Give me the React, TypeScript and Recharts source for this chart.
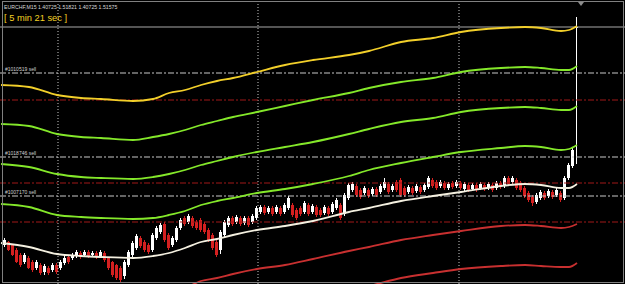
import React from 'react';
import { ComposedChart, Bar, Line, XAxis, YAxis, ReferenceLine } from 'recharts';

// ---------- candle data (EURCHF, M15) ----------
const opens = [
  1.2039, 1.2042, 1.2039, 1.2034, 1.2029, 1.2022, 1.2026, 1.2022, 1.2016, 1.2019,
  1.2012, 1.2016, 1.2014, 1.2019, 1.2016, 1.2021, 1.2027, 1.2026, 1.2028, 1.2031,
  1.2029, 1.2032, 1.2029, 1.2031, 1.2028, 1.2031, 1.2026, 1.2022, 1.2019, 1.2016,
  1.2008, 1.2019, 1.2029, 1.2036, 1.2046, 1.2042, 1.2039, 1.2034, 1.2046, 1.2052,
  1.2060, 1.2049, 1.2039, 1.2044, 1.2056, 1.2066, 1.2062, 1.2066, 1.2062, 1.2064,
  1.2060, 1.2054, 1.2049, 1.2042, 1.2034, 1.2049, 1.2059, 1.2066, 1.2062, 1.2066,
  1.2061, 1.2066, 1.2062, 1.2066, 1.2072, 1.2077, 1.2072, 1.2076, 1.2072, 1.2076,
  1.2072, 1.2076, 1.2079, 1.2074, 1.2076, 1.2072, 1.2079, 1.2072, 1.2077, 1.2074,
  1.2071, 1.2076, 1.2072, 1.2076, 1.2079, 1.2070, 1.2086, 1.2094, 1.2098, 1.2094,
  1.2091, 1.2094, 1.2090, 1.2095, 1.2092, 1.2096, 1.2100, 1.2094, 1.2102, 1.2104,
  1.2096, 1.2092, 1.2096, 1.2093, 1.2097, 1.2094, 1.2097, 1.2104, 1.2102, 1.2098,
  1.2101, 1.2096, 1.2101, 1.2098, 1.2101, 1.2095, 1.2099, 1.2095, 1.2099, 1.2096,
  1.2099, 1.2096, 1.2099, 1.2096, 1.2101, 1.2098, 1.2106, 1.2102, 1.2104, 1.2101,
  1.2096, 1.2091, 1.2087, 1.2082, 1.2086, 1.2091, 1.2088, 1.2092, 1.2089, 1.2091,
  1.2086, 1.2106, 1.2118, 1.2256,
];
const highs = [
  1.2046, 1.2043, 1.2040, 1.2036, 1.2031, 1.2031, 1.2028, 1.2024, 1.2024, 1.2021,
  1.2020, 1.2018, 1.2021, 1.2021, 1.2024, 1.2028, 1.2029, 1.2031, 1.2034, 1.2033,
  1.2034, 1.2034, 1.2033, 1.2033, 1.2034, 1.2033, 1.2027, 1.2023, 1.2020, 1.2018,
  1.2024, 1.2034, 1.2043, 1.2050, 1.2048, 1.2044, 1.2041, 1.2051, 1.2058, 1.2061,
  1.2062, 1.2051, 1.2048, 1.2058, 1.2066, 1.2068, 1.2070, 1.2068, 1.2064, 1.2066,
  1.2062, 1.2056, 1.2051, 1.2044, 1.2054, 1.2064, 1.2068, 1.2068, 1.2069, 1.2068,
  1.2068, 1.2068, 1.2070, 1.2078, 1.2079, 1.2079, 1.2078, 1.2078, 1.2079, 1.2078,
  1.2081, 1.2088, 1.2081, 1.2076, 1.2078, 1.2083, 1.2081, 1.2080, 1.2079, 1.2076,
  1.2079, 1.2078, 1.2082, 1.2086, 1.2081, 1.2091, 1.2101, 1.2102, 1.2100, 1.2096,
  1.2098, 1.2096, 1.2097, 1.2097, 1.2100, 1.2106, 1.2102, 1.2100, 1.2104, 1.2106,
  1.2098, 1.2099, 1.2098, 1.2100, 1.2099, 1.2101, 1.2108, 1.2106, 1.2104, 1.2104,
  1.2103, 1.2102, 1.2103, 1.2104, 1.2103, 1.2102, 1.2101, 1.2101, 1.2101, 1.2102,
  1.2101, 1.2102, 1.2101, 1.2103, 1.2103, 1.2108, 1.2108, 1.2108, 1.2106, 1.2103,
  1.2098, 1.2093, 1.2089, 1.2091, 1.2094, 1.2093, 1.2095, 1.2094, 1.2096, 1.2093,
  1.2108, 1.2121, 1.2136, 1.2267,
];
const lows = [
  1.2037, 1.2033, 1.2028, 1.2021, 1.2017, 1.2020, 1.2015, 1.2012, 1.2014, 1.2009,
  1.2009, 1.2009, 1.2012, 1.2010, 1.2014, 1.2019, 1.2020, 1.2024, 1.2026, 1.2025,
  1.2027, 1.2026, 1.2027, 1.2025, 1.2026, 1.2022, 1.2014, 1.2007, 1.2004, 1.2002,
  1.2005, 1.2017, 1.2027, 1.2034, 1.2036, 1.2032, 1.2030, 1.2032, 1.2044, 1.2050,
  1.2042, 1.2034, 1.2037, 1.2042, 1.2054, 1.2058, 1.2060, 1.2056, 1.2054, 1.2052,
  1.2050, 1.2042, 1.2034, 1.2027, 1.2030, 1.2047, 1.2057, 1.2058, 1.2060, 1.2058,
  1.2059, 1.2057, 1.2060, 1.2064, 1.2070, 1.2069, 1.2070, 1.2068, 1.2070, 1.2068,
  1.2070, 1.2074, 1.2067, 1.2064, 1.2068, 1.2070, 1.2068, 1.2070, 1.2067, 1.2067,
  1.2069, 1.2068, 1.2070, 1.2074, 1.2064, 1.2068, 1.2084, 1.2092, 1.2087, 1.2085,
  1.2089, 1.2086, 1.2088, 1.2087, 1.2090, 1.2094, 1.2090, 1.2092, 1.2092, 1.2087,
  1.2087, 1.2090, 1.2089, 1.2091, 1.2090, 1.2092, 1.2095, 1.2096, 1.2094, 1.2096,
  1.2094, 1.2094, 1.2095, 1.2096, 1.2094, 1.2093, 1.2092, 1.2093, 1.2092, 1.2094,
  1.2093, 1.2094, 1.2092, 1.2094, 1.2095, 1.2096, 1.2098, 1.2100, 1.2094, 1.2092,
  1.2086, 1.2082, 1.2078, 1.2080, 1.2084, 1.2084, 1.2086, 1.2085, 1.2087, 1.2082,
  1.2084, 1.2104, 1.2116, 1.2120,
];
const closes = [
  1.2044, 1.2034, 1.2029, 1.2022, 1.2019, 1.2029, 1.2016, 1.2014, 1.2022, 1.2011,
  1.2018, 1.2011, 1.2019, 1.2012, 1.2022, 1.2026, 1.2022, 1.2029, 1.2032, 1.2027,
  1.2032, 1.2028, 1.2031, 1.2027, 1.2032, 1.2024, 1.2016, 1.2009, 1.2006, 1.2004,
  1.2022, 1.2032, 1.2041, 1.2048, 1.2038, 1.2034, 1.2032, 1.2049, 1.2056, 1.2059,
  1.2044, 1.2036, 1.2046, 1.2056, 1.2064, 1.2060, 1.2068, 1.2058, 1.2056, 1.2054,
  1.2052, 1.2044, 1.2036, 1.2029, 1.2052, 1.2062, 1.2066, 1.2060, 1.2067, 1.2060,
  1.2066, 1.2059, 1.2068, 1.2076, 1.2077, 1.2071, 1.2076, 1.2070, 1.2077, 1.2070,
  1.2079, 1.2086, 1.2069, 1.2066, 1.2070, 1.2081, 1.2070, 1.2078, 1.2069, 1.2069,
  1.2077, 1.2070, 1.2080, 1.2084, 1.2066, 1.2089, 1.2099, 1.2100, 1.2089, 1.2087,
  1.2096, 1.2088, 1.2095, 1.2089, 1.2098, 1.2102, 1.2092, 1.2098, 1.2094, 1.2089,
  1.2089, 1.2097, 1.2091, 1.2098, 1.2092, 1.2099, 1.2106, 1.2098, 1.2096, 1.2102,
  1.2096, 1.2100, 1.2097, 1.2102, 1.2096, 1.2100, 1.2094, 1.2099, 1.2094, 1.2100,
  1.2095, 1.2100, 1.2094, 1.2101, 1.2097, 1.2106, 1.2100, 1.2106, 1.2096, 1.2094,
  1.2088, 1.2084, 1.2081, 1.2089, 1.2092, 1.2086, 1.2093, 1.2087, 1.2094, 1.2084,
  1.2106, 1.2119, 1.2134, 1.2257,
];

// ---------- indicator lines (sampled at bar indices) ----------
const lineIdx = [-1, 6, 13, 19, 24, 32, 37, 41, 45, 49, 53, 57, 63, 70, 77, 86, 91, 99, 107, 114, 124, 130, 134, 139, 141, 143];
const yellowLine = [1.2199, 1.2197, 1.2189, 1.2186, 1.2185, 1.2183, 1.2185, 1.2191, 1.2194, 1.2199, 1.2203, 1.2206, 1.2212, 1.2219, 1.2224, 1.2229, 1.2233, 1.2242, 1.2246, 1.2252, 1.2256, 1.2257, 1.2256, 1.2253, 1.2254, 1.2258];
const green1Line = [1.2160, 1.2158, 1.2150, 1.2147, 1.2146, 1.2144, 1.2147, 1.2150, 1.2154, 1.2159, 1.2163, 1.2167, 1.2172, 1.2178, 1.2184, 1.2191, 1.2196, 1.2202, 1.2206, 1.2212, 1.2216, 1.2217, 1.2216, 1.2214, 1.2214, 1.2218];
const green2Line = [1.2120, 1.2117, 1.2110, 1.2107, 1.2106, 1.2105, 1.2107, 1.2110, 1.2114, 1.2119, 1.2123, 1.2127, 1.2132, 1.2137, 1.2142, 1.2150, 1.2155, 1.2162, 1.2166, 1.2172, 1.2176, 1.2177, 1.2176, 1.2174, 1.2174, 1.2178];
const green3Line = [1.2080, 1.2077, 1.2069, 1.2067, 1.2066, 1.2065, 1.2066, 1.2069, 1.2073, 1.2079, 1.2083, 1.2086, 1.2091, 1.2095, 1.2100, 1.2108, 1.2114, 1.2121, 1.2127, 1.2132, 1.2136, 1.2138, 1.2137, 1.2134, 1.2135, 1.2139];
const maLine = [1.2041, 1.2037, 1.2030, 1.2028, 1.2027, 1.2026, 1.2028, 1.2031, 1.2036, 1.2042, 1.2045, 1.2049, 1.2054, 1.2058, 1.2063, 1.2072, 1.2076, 1.2083, 1.2088, 1.2092, 1.2098, 1.2100, 1.2099, 1.2096, 1.2096, 1.2100];
const red1Line = [null, null, null, null, null, null, 1.1988, 1.1991, 1.1996, 1.2003, 1.2006, 1.2010, 1.2015, 1.2019, 1.2025, 1.2033, 1.2037, 1.2044, 1.2049, 1.2053, 1.2058, 1.2059, 1.2058, 1.2056, 1.2057, 1.2060];
const red2Line = [null, null, null, null, null, null, null, null, null, null, null, null, null, null, 1.1986, 1.1994, 1.1998, 1.2006, 1.2011, 1.2015, 1.2018, 1.2019, 1.2018, 1.2017, 1.2017, 1.2021];

// ---------- levels ----------
const bidPrice = 1.2257;
const orderPrices = [1.2211, 1.2127, 1.2088];
const orderLabels = ['#1010519 sell', '#1018746 sell', '#1007170 sell'];
const stopPrices = [1.2184, 1.2101, 1.2062];
const separators = [13.25, 63.25, 113.5];

const headerText = 'EURCHF,M15  1.40725 1.51821 1.40725 1.51575';
const timerText = '[ 5 min 21 sec ]';

const W = 625;
const H = 284;
const BULL = '#ffffff';
const BEAR = '#d42020';

const candles = opens.map((o, i) => ({
  i,
  open: o,
  high: highs[i],
  low: lows[i],
  close: closes[i],
  range: [lows[i], highs[i]],
}));

const lineData = lineIdx.map((i, k) => ({
  i,
  yellow: yellowLine[k],
  green1: green1Line[k],
  green2: green2Line[k],
  green3: green3Line[k],
  ma: maLine[k],
  red1: red1Line[k],
  red2: red2Line[k],
}));

const CandleShape = (props: any) => {
  const { x, y, width, height, payload } = props;
  if (!payload || x == null || y == null) return null;
  const { open, close, high, low } = payload;
  const top = Math.min(y, y + height);
  const bottom = Math.max(y, y + height);
  const span = high - low;
  const py = (v: number) => (span === 0 ? top : top + ((high - v) / span) * (bottom - top));
  const cx = Math.floor(x + width / 2);
  const color = close >= open ? BULL : BEAR;
  const bTop = py(Math.max(open, close));
  const bBot = py(Math.min(open, close));
  return (
    <g>
      <line x1={cx + 0.5} x2={cx + 0.5} y1={top} y2={bottom} stroke={color} strokeWidth={1} />
      <rect x={cx - 1} y={bTop} width={3} height={Math.max(1, bBot - bTop)} fill={color} />
    </g>
  );
};

const OrderLabel = (props: any) => {
  const { viewBox, text } = props;
  if (!viewBox) return null;
  return (
    <text x={viewBox.x + 5} y={viewBox.y - 2} fill="#d0d0d0" fontSize={5} fontFamily="'Liberation Sans', Arial, sans-serif">
      {text}
    </text>
  );
};

const lineKeys = [
  { key: 'yellow', color: '#f2cf2a' },
  { key: 'green1', color: '#84e82a' },
  { key: 'green2', color: '#84e82a' },
  { key: 'green3', color: '#84e82a' },
  { key: 'ma', color: '#f4f0e0' },
  { key: 'red1', color: '#c83030' },
  { key: 'red2', color: '#c83030' },
];

export default function App() {
  return (
    <div style={{ position: 'fixed', left: 0, top: 0, width: W, height: H, background: '#000', overflow: 'hidden' }}>
      <ComposedChart width={W} height={H} data={candles} margin={{ top: 0, right: 0, bottom: 0, left: 0 }}>
        <XAxis dataKey="i" type="number" domain={[-1.25, 155]} allowDataOverflow hide />
        <YAxis type="number" domain={[1.2, 1.2284]} allowDataOverflow hide />
        {separators.map((s) => (
          <ReferenceLine key={'s' + s} x={s} stroke="#c8c8c8" strokeDasharray="1 2" strokeWidth={1} />
        ))}
        <ReferenceLine y={bidPrice} stroke="#a8a8a8" strokeWidth={1} />
        {stopPrices.map((p) => (
          <ReferenceLine key={'sl' + p} y={p} stroke="#a01818" strokeDasharray="6 2 2 2" strokeWidth={1} />
        ))}
        {orderPrices.map((p, k) => (
          <ReferenceLine
            key={'o' + p}
            y={p}
            stroke="#c8c8c8"
            strokeDasharray="6 2 2 2"
            strokeWidth={1}
            label={<OrderLabel text={orderLabels[k]} />}
          />
        ))}
        <Bar dataKey="range" barSize={3} shape={<CandleShape />} isAnimationActive={false} />
        {lineKeys.map((l) => (
          <Line
            key={l.key}
            data={lineData}
            dataKey={l.key}
            type="monotone"
            stroke={l.color}
            strokeWidth={1.8}
            dot={false}
            activeDot={false}
            legendType="none"
            isAnimationActive={false}
          />
        ))}
      </ComposedChart>
      <div
        style={{
          position: 'absolute',
          left: 2,
          top: 1,
          width: 622,
          height: 282,
          border: '1px solid #808080',
          boxSizing: 'border-box',
          pointerEvents: 'none',
        }}
      />
      <svg width={W} height={H} style={{ position: 'absolute', left: 0, top: 0, pointerEvents: 'none' }}>
        <text x={4} y={8.5} fill="#d8d8d8" fontSize={5.2} fontFamily="'Liberation Sans', Arial, sans-serif">
          {headerText}
        </text>
        <text x={4} y={20.5} fill="#f2d024" fontSize={9.3} fontFamily="'Liberation Sans', Arial, sans-serif">
          {timerText}
        </text>
        <polygon points="578,2 584,2 581,6" fill="#8c8c8c" />
      </svg>
    </div>
  );
}
